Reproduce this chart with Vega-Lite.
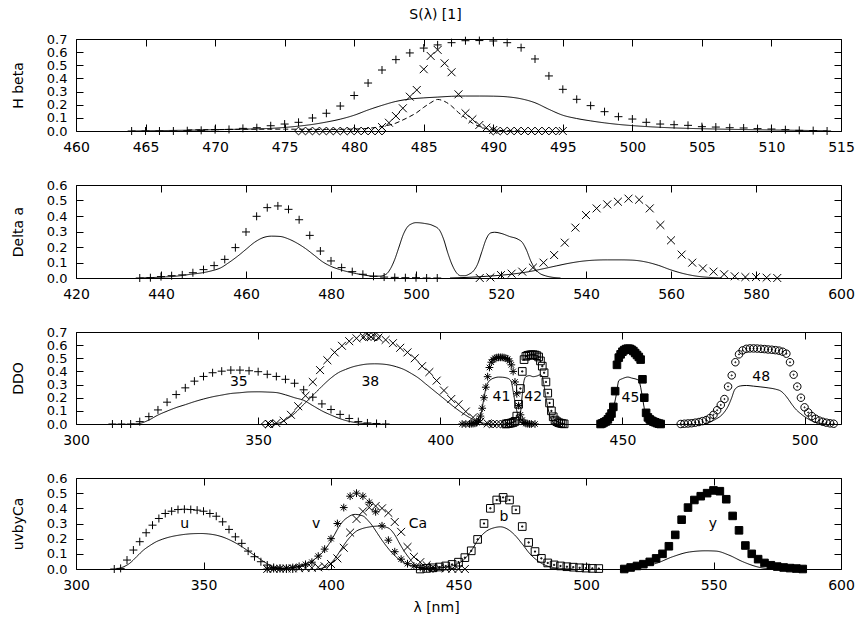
{
  "$schema": "https://vega.github.io/schema/vega-lite/v6.json",
  "padding": {"left": 11, "top": 8, "right": 0, "bottom": 0},
  "background": "white",
  "config": {
    "font": "DejaVu Sans",
    "view": {"stroke": null},
    "axis": {"grid": false, "domain": true, "domainColor": "black", "domainWidth": 1, "tickColor": "black", "tickWidth": 1, "tickSize": -7, "labelColor": "black", "titleColor": "black", "labelFont": "DejaVu Sans", "titleFont": "DejaVu Sans", "labelFontSize": 14, "titleFontSize": 14, "titleFontWeight": "normal", "labelOverlap": false, "labelFlush": false},
    "axisX": {"labelPadding": 16},
    "axisY": {"labelPadding": 16, "titlePadding": 21, "labelFontSize": 13},
    "title": {"font": "DejaVu Sans", "fontSize": 14, "fontWeight": "normal", "color": "black"}
  },
  "datasets": {
    "p1p": [
      {"x":464,"y":0,"m":"plus"},{"x":465,"y":0,"m":"plus"},{"x":466,"y":0,"m":"plus"},{"x":467,"y":0,"m":"plus"},{"x":468,"y":0.002,"m":"plus"},{"x":469,"y":0.005,"m":"plus"},{"x":470,"y":0.01,"m":"plus"},{"x":471,"y":0.012,"m":"plus"},{"x":472,"y":0.02,"m":"plus"},{"x":473,"y":0.025,"m":"plus"},{"x":474,"y":0.04,"m":"plus"},{"x":475,"y":0.053,"m":"plus"},{"x":476,"y":0.066,"m":"plus"},{"x":477,"y":0.099,"m":"plus"},{"x":478,"y":0.135,"m":"plus"},{"x":479,"y":0.19,"m":"plus"},{"x":480,"y":0.27,"m":"plus"},{"x":481,"y":0.365,"m":"plus"},{"x":482,"y":0.464,"m":"plus"},{"x":483,"y":0.543,"m":"plus"},{"x":484,"y":0.594,"m":"plus"},{"x":485,"y":0.631,"m":"plus"},{"x":486,"y":0.655,"m":"plus"},{"x":487,"y":0.672,"m":"plus"},{"x":488,"y":0.687,"m":"plus"},{"x":489,"y":0.688,"m":"plus"},{"x":490,"y":0.685,"m":"plus"},{"x":491,"y":0.672,"m":"plus"},{"x":492,"y":0.634,"m":"plus"},{"x":493,"y":0.548,"m":"plus"},{"x":494,"y":0.419,"m":"plus"},{"x":495,"y":0.317,"m":"plus"},{"x":496,"y":0.241,"m":"plus"},{"x":497,"y":0.193,"m":"plus"},{"x":498,"y":0.147,"m":"plus"},{"x":499,"y":0.109,"m":"plus"},{"x":500,"y":0.091,"m":"plus"},{"x":501,"y":0.066,"m":"plus"},{"x":502,"y":0.053,"m":"plus"},{"x":503,"y":0.048,"m":"plus"},{"x":504,"y":0.043,"m":"plus"},{"x":505,"y":0.033,"m":"plus"},{"x":506,"y":0.03,"m":"plus"},{"x":507,"y":0.025,"m":"plus"},{"x":508,"y":0.023,"m":"plus"},{"x":509,"y":0.018,"m":"plus"},{"x":510,"y":0.015,"m":"plus"},{"x":511,"y":0.01,"m":"plus"},{"x":512,"y":0.005,"m":"plus"},{"x":513,"y":0.003,"m":"plus"},{"x":514,"y":0,"m":"plus"},
      {"x":482,"y":0.03,"m":"x"},{"x":482.5,"y":0.063,"m":"x"},{"x":483,"y":0.114,"m":"x"},{"x":483.5,"y":0.173,"m":"x"},{"x":484,"y":0.261,"m":"x"},{"x":484.5,"y":0.312,"m":"x"},{"x":485,"y":0.47,"m":"x"},{"x":485.5,"y":0.571,"m":"x"},{"x":486,"y":0.617,"m":"x"},{"x":486.5,"y":0.515,"m":"x"},{"x":487,"y":0.447,"m":"x"},{"x":487.5,"y":0.279,"m":"x"},{"x":488,"y":0.135,"m":"x"},{"x":488.5,"y":0.089,"m":"x"},{"x":489,"y":0.046,"m":"x"},{"x":489.5,"y":0.025,"m":"x"},{"x":490,"y":0.008,"m":"x"},{"x":495,"y":0,"m":"x"},
      {"x":476,"y":0,"m":"diamond"},{"x":476.5,"y":0,"m":"diamond"},{"x":477,"y":0,"m":"diamond"},{"x":477.5,"y":0,"m":"diamond"},{"x":478,"y":0,"m":"diamond"},{"x":478.5,"y":0,"m":"diamond"},{"x":479,"y":0,"m":"diamond"},{"x":479.5,"y":0,"m":"diamond"},{"x":480,"y":0,"m":"diamond"},{"x":480.5,"y":0,"m":"diamond"},{"x":481,"y":0,"m":"diamond"},{"x":481.5,"y":0,"m":"diamond"},{"x":482,"y":0,"m":"diamond"},
      {"x":490,"y":0,"m":"diamond"},{"x":490.5,"y":0,"m":"diamond"},{"x":491,"y":0,"m":"diamond"},{"x":491.5,"y":0,"m":"diamond"},{"x":492,"y":0,"m":"diamond"},{"x":492.5,"y":0,"m":"diamond"},{"x":493,"y":0,"m":"diamond"},{"x":493.5,"y":0,"m":"diamond"},{"x":494,"y":0,"m":"diamond"},{"x":494.5,"y":0,"m":"diamond"}
    ],
    "p1l": [
      {"s":"a","d":"solid","x":464,"y":0},{"s":"a","d":"solid","x":466,"y":0.003},{"s":"a","d":"solid","x":468,"y":0.006},{"s":"a","d":"solid","x":470,"y":0.01},{"s":"a","d":"solid","x":472,"y":0.014},{"s":"a","d":"solid","x":474,"y":0.02},{"s":"a","d":"solid","x":475,"y":0.027},{"s":"a","d":"solid","x":476,"y":0.037},{"s":"a","d":"solid","x":477,"y":0.05},{"s":"a","d":"solid","x":478,"y":0.068},{"s":"a","d":"solid","x":479,"y":0.09},{"s":"a","d":"solid","x":480,"y":0.12},{"s":"a","d":"solid","x":481,"y":0.16},{"s":"a","d":"solid","x":482,"y":0.195},{"s":"a","d":"solid","x":483,"y":0.225},{"s":"a","d":"solid","x":484,"y":0.243},{"s":"a","d":"solid","x":485,"y":0.252},{"s":"a","d":"solid","x":486,"y":0.258},{"s":"a","d":"solid","x":487,"y":0.264},{"s":"a","d":"solid","x":488,"y":0.266},{"s":"a","d":"solid","x":489,"y":0.266},{"s":"a","d":"solid","x":490,"y":0.265},{"s":"a","d":"solid","x":491,"y":0.26},{"s":"a","d":"solid","x":492,"y":0.245},{"s":"a","d":"solid","x":493,"y":0.215},{"s":"a","d":"solid","x":494,"y":0.165},{"s":"a","d":"solid","x":495,"y":0.12},{"s":"a","d":"solid","x":496,"y":0.095},{"s":"a","d":"solid","x":497,"y":0.077},{"s":"a","d":"solid","x":498,"y":0.062},{"s":"a","d":"solid","x":499,"y":0.05},{"s":"a","d":"solid","x":500,"y":0.041},{"s":"a","d":"solid","x":502,"y":0.028},{"s":"a","d":"solid","x":504,"y":0.02},{"s":"a","d":"solid","x":506,"y":0.015},{"s":"a","d":"solid","x":508,"y":0.011},{"s":"a","d":"solid","x":510,"y":0.008},{"s":"a","d":"solid","x":512,"y":0.005},{"s":"a","d":"solid","x":514,"y":0.002},
      {"s":"b","d":"dashed","x":468,"y":0.008},{"s":"b","d":"dashed","x":472,"y":0.013},{"s":"b","d":"dashed","x":475,"y":0.014},{"s":"b","d":"dashed","x":478,"y":0.012},{"s":"b","d":"dashed","x":480,"y":0.015},{"s":"b","d":"dashed","x":481,"y":0.02},{"s":"b","d":"dashed","x":482,"y":0.035},{"s":"b","d":"dashed","x":483,"y":0.06},{"s":"b","d":"dashed","x":483.5,"y":0.084},{"s":"b","d":"dashed","x":484,"y":0.11},{"s":"b","d":"dashed","x":484.5,"y":0.14},{"s":"b","d":"dashed","x":485,"y":0.18},{"s":"b","d":"dashed","x":485.5,"y":0.215},{"s":"b","d":"dashed","x":486,"y":0.24},{"s":"b","d":"dashed","x":486.5,"y":0.225},{"s":"b","d":"dashed","x":487,"y":0.19},{"s":"b","d":"dashed","x":487.5,"y":0.14},{"s":"b","d":"dashed","x":488,"y":0.1},{"s":"b","d":"dashed","x":488.5,"y":0.06},{"s":"b","d":"dashed","x":489,"y":0.035},{"s":"b","d":"dashed","x":489.5,"y":0.018},{"s":"b","d":"dashed","x":490,"y":0.008},{"s":"b","d":"dashed","x":491,"y":0.002},{"s":"b","d":"dashed","x":492,"y":0}
    ],
    "p2p": [
      {"x":435,"y":0,"m":"plus"},{"x":437.5,"y":0.002,"m":"plus"},{"x":440,"y":0.009,"m":"plus"},{"x":442.5,"y":0.015,"m":"plus"},{"x":445,"y":0.02,"m":"plus"},{"x":447.5,"y":0.034,"m":"plus"},{"x":450,"y":0.054,"m":"plus"},{"x":452.5,"y":0.08,"m":"plus"},{"x":455,"y":0.12,"m":"plus"},{"x":457.5,"y":0.196,"m":"plus"},{"x":460,"y":0.297,"m":"plus"},{"x":462.5,"y":0.398,"m":"plus"},{"x":465,"y":0.454,"m":"plus"},{"x":467.5,"y":0.465,"m":"plus"},{"x":470,"y":0.443,"m":"plus"},{"x":472.5,"y":0.376,"m":"plus"},{"x":475,"y":0.275,"m":"plus"},{"x":477.5,"y":0.174,"m":"plus"},{"x":480,"y":0.11,"m":"plus"},{"x":482.5,"y":0.067,"m":"plus"},{"x":485,"y":0.041,"m":"plus"},{"x":487.5,"y":0.024,"m":"plus"},{"x":490,"y":0.011,"m":"plus"},{"x":492.5,"y":0.006,"m":"plus"},{"x":495,"y":0.004,"m":"plus"},{"x":497.5,"y":0.002,"m":"plus"},{"x":500,"y":0.002,"m":"plus"},{"x":502.5,"y":0,"m":"plus"},{"x":505,"y":0,"m":"plus"},
      {"x":515,"y":0,"m":"x"},{"x":517.5,"y":0.004,"m":"x"},{"x":520,"y":0.019,"m":"x"},{"x":522.5,"y":0.028,"m":"x"},{"x":525,"y":0.041,"m":"x"},{"x":527.5,"y":0.067,"m":"x"},{"x":530,"y":0.099,"m":"x"},{"x":532.5,"y":0.148,"m":"x"},{"x":535,"y":0.228,"m":"x"},{"x":537.5,"y":0.325,"m":"x"},{"x":540,"y":0.406,"m":"x"},{"x":542.5,"y":0.449,"m":"x"},{"x":545,"y":0.475,"m":"x"},{"x":547.5,"y":0.492,"m":"x"},{"x":550,"y":0.512,"m":"x"},{"x":552.5,"y":0.505,"m":"x"},{"x":555,"y":0.449,"m":"x"},{"x":557.5,"y":0.342,"m":"x"},{"x":560,"y":0.243,"m":"x"},{"x":562.5,"y":0.151,"m":"x"},{"x":565,"y":0.099,"m":"x"},{"x":567.5,"y":0.062,"m":"x"},{"x":570,"y":0.041,"m":"x"},{"x":572.5,"y":0.024,"m":"x"},{"x":575,"y":0.011,"m":"x"},{"x":577.5,"y":0.006,"m":"x"},{"x":580,"y":0.006,"m":"x"},{"x":582.5,"y":0.002,"m":"x"},{"x":585,"y":0,"m":"x"}
    ],
    "p2l": [
      {"s":"a","d":"solid","x":435,"y":0},{"s":"a","d":"solid","x":438,"y":0.003},{"s":"a","d":"solid","x":441,"y":0.007},{"s":"a","d":"solid","x":444,"y":0.013},{"s":"a","d":"solid","x":447,"y":0.024},{"s":"a","d":"solid","x":450,"y":0.035},{"s":"a","d":"solid","x":452,"y":0.047},{"s":"a","d":"solid","x":454,"y":0.065},{"s":"a","d":"solid","x":456,"y":0.1},{"s":"a","d":"solid","x":458,"y":0.14},{"s":"a","d":"solid","x":460,"y":0.185},{"s":"a","d":"solid","x":462,"y":0.23},{"s":"a","d":"solid","x":464,"y":0.26},{"s":"a","d":"solid","x":466,"y":0.27},{"s":"a","d":"solid","x":468,"y":0.268},{"s":"a","d":"solid","x":470,"y":0.252},{"s":"a","d":"solid","x":472,"y":0.225},{"s":"a","d":"solid","x":474,"y":0.19},{"s":"a","d":"solid","x":476,"y":0.148},{"s":"a","d":"solid","x":478,"y":0.105},{"s":"a","d":"solid","x":480,"y":0.075},{"s":"a","d":"solid","x":482,"y":0.055},{"s":"a","d":"solid","x":484,"y":0.04},{"s":"a","d":"solid","x":486,"y":0.028},{"s":"a","d":"solid","x":488,"y":0.018},{"s":"a","d":"solid","x":490,"y":0.012},{"s":"a","d":"solid","x":491.5,"y":0.012},{"s":"a","d":"solid","x":493,"y":0.025},{"s":"a","d":"solid","x":494,"y":0.06},{"s":"a","d":"solid","x":495,"y":0.12},{"s":"a","d":"solid","x":496,"y":0.2},{"s":"a","d":"solid","x":497,"y":0.28},{"s":"a","d":"solid","x":498,"y":0.33},{"s":"a","d":"solid","x":499,"y":0.35},{"s":"a","d":"solid","x":500,"y":0.357},{"s":"a","d":"solid","x":502,"y":0.352},{"s":"a","d":"solid","x":504,"y":0.338},{"s":"a","d":"solid","x":505.5,"y":0.31},{"s":"a","d":"solid","x":506.5,"y":0.25},{"s":"a","d":"solid","x":507.5,"y":0.16},{"s":"a","d":"solid","x":508.5,"y":0.085},{"s":"a","d":"solid","x":509.5,"y":0.035},{"s":"a","d":"solid","x":510.5,"y":0.015},{"s":"a","d":"solid","x":511.5,"y":0.015},{"s":"a","d":"solid","x":512.5,"y":0.025},{"s":"a","d":"solid","x":513.5,"y":0.045},{"s":"a","d":"solid","x":514.5,"y":0.09},{"s":"a","d":"solid","x":515.5,"y":0.17},{"s":"a","d":"solid","x":516.5,"y":0.25},{"s":"a","d":"solid","x":517.5,"y":0.29},{"s":"a","d":"solid","x":518.5,"y":0.295},{"s":"a","d":"solid","x":520,"y":0.288},{"s":"a","d":"solid","x":522,"y":0.268},{"s":"a","d":"solid","x":524,"y":0.25},{"s":"a","d":"solid","x":525,"y":0.23},{"s":"a","d":"solid","x":526,"y":0.18},{"s":"a","d":"solid","x":527,"y":0.11},{"s":"a","d":"solid","x":528,"y":0.06},{"s":"a","d":"solid","x":529,"y":0.032},{"s":"a","d":"solid","x":530.5,"y":0.014},{"s":"a","d":"solid","x":532,"y":0.005},{"s":"a","d":"solid","x":534,"y":0},
      {"s":"b","d":"solid","x":508,"y":0},{"s":"b","d":"solid","x":512,"y":0.004},{"s":"b","d":"solid","x":516,"y":0.01},{"s":"b","d":"solid","x":520,"y":0.018},{"s":"b","d":"solid","x":524,"y":0.03},{"s":"b","d":"solid","x":527,"y":0.043},{"s":"b","d":"solid","x":530,"y":0.06},{"s":"b","d":"solid","x":533,"y":0.078},{"s":"b","d":"solid","x":536,"y":0.095},{"s":"b","d":"solid","x":539,"y":0.108},{"s":"b","d":"solid","x":542,"y":0.115},{"s":"b","d":"solid","x":545,"y":0.117},{"s":"b","d":"solid","x":548,"y":0.117},{"s":"b","d":"solid","x":551,"y":0.115},{"s":"b","d":"solid","x":554,"y":0.104},{"s":"b","d":"solid","x":557,"y":0.082},{"s":"b","d":"solid","x":560,"y":0.052},{"s":"b","d":"solid","x":563,"y":0.028},{"s":"b","d":"solid","x":566,"y":0.012},{"s":"b","d":"solid","x":569,"y":0.004},{"s":"b","d":"solid","x":572,"y":0}
    ],
    "p3p": [
      {"x":310,"y":0,"m":"plus"},{"x":312.5,"y":0,"m":"plus"},{"x":315,"y":0,"m":"plus"},{"x":317.5,"y":0.018,"m":"plus"},{"x":320,"y":0.056,"m":"plus"},{"x":322.5,"y":0.107,"m":"plus"},{"x":325,"y":0.166,"m":"plus"},{"x":327.5,"y":0.224,"m":"plus"},{"x":330,"y":0.275,"m":"plus"},{"x":332.5,"y":0.326,"m":"plus"},{"x":335,"y":0.362,"m":"plus"},{"x":337.5,"y":0.39,"m":"plus"},{"x":340,"y":0.402,"m":"plus"},{"x":342.5,"y":0.41,"m":"plus"},{"x":345,"y":0.41,"m":"plus"},{"x":347.5,"y":0.405,"m":"plus"},{"x":350,"y":0.398,"m":"plus"},{"x":352.5,"y":0.378,"m":"plus"},{"x":355,"y":0.362,"m":"plus"},{"x":357.5,"y":0.34,"m":"plus"},{"x":360,"y":0.31,"m":"plus"},{"x":362.5,"y":0.26,"m":"plus"},{"x":365,"y":0.204,"m":"plus"},{"x":367.5,"y":0.153,"m":"plus"},{"x":370,"y":0.11,"m":"plus"},{"x":372.5,"y":0.073,"m":"plus"},{"x":375,"y":0.042,"m":"plus"},{"x":377.5,"y":0.018,"m":"plus"},{"x":380,"y":0.008,"m":"plus"},{"x":382.5,"y":0.004,"m":"plus"},{"x":385,"y":0,"m":"plus"},
      {"x":353,"y":0,"m":"x"},{"x":355,"y":0.007,"m":"x"},{"x":357,"y":0.025,"m":"x"},{"x":359,"y":0.07,"m":"x"},{"x":361,"y":0.135,"m":"x"},{"x":363,"y":0.215,"m":"x"},{"x":365,"y":0.32,"m":"x"},{"x":367,"y":0.41,"m":"x"},{"x":369,"y":0.485,"m":"x"},{"x":371,"y":0.545,"m":"x"},{"x":373,"y":0.595,"m":"x"},{"x":375,"y":0.63,"m":"x"},{"x":377,"y":0.652,"m":"x"},{"x":379,"y":0.662,"m":"x"},{"x":381,"y":0.662,"m":"x"},{"x":383,"y":0.657,"m":"x"},{"x":385,"y":0.64,"m":"x"},{"x":387,"y":0.615,"m":"x"},{"x":389,"y":0.58,"m":"x"},{"x":391,"y":0.545,"m":"x"},{"x":393,"y":0.5,"m":"x"},{"x":395,"y":0.44,"m":"x"},{"x":397,"y":0.395,"m":"x"},{"x":399,"y":0.33,"m":"x"},{"x":401,"y":0.255,"m":"x"},{"x":403,"y":0.19,"m":"x"},{"x":405,"y":0.15,"m":"x"},{"x":407,"y":0.095,"m":"x"},{"x":409,"y":0.05,"m":"x"},{"x":411,"y":0.018,"m":"x"},{"x":413,"y":0.004,"m":"x"},
      {"x":352,"y":0,"m":"diamond"},{"x":353.5,"y":0,"m":"diamond"},{"x":379.5,"y":0.664,"m":"diamond"},{"x":381,"y":0.665,"m":"diamond"},{"x":382.5,"y":0.662,"m":"diamond"},{"x":413.5,"y":0,"m":"diamond"},{"x":414.5,"y":0,"m":"diamond"},{"x":415.5,"y":0,"m":"diamond"},{"x":416.5,"y":0,"m":"diamond"},{"x":417.5,"y":0,"m":"diamond"},
      {"x":406,"y":0,"m":"asterisk"},{"x":407,"y":0,"m":"asterisk"},{"x":408,"y":0,"m":"asterisk"},{"x":408.5,"y":0.002,"m":"asterisk"},{"x":409,"y":0.003,"m":"asterisk"},{"x":409.5,"y":0.005,"m":"asterisk"},{"x":410,"y":0.01,"m":"asterisk"},{"x":410.5,"y":0.025,"m":"asterisk"},{"x":411,"y":0.06,"m":"asterisk"},{"x":411.5,"y":0.12,"m":"asterisk"},{"x":412,"y":0.2,"m":"asterisk"},{"x":412.5,"y":0.28,"m":"asterisk"},{"x":413,"y":0.36,"m":"asterisk"},{"x":413.5,"y":0.43,"m":"asterisk"},{"x":414,"y":0.47,"m":"asterisk"},{"x":414.5,"y":0.49,"m":"asterisk"},{"x":415,"y":0.5,"m":"asterisk"},{"x":415.5,"y":0.505,"m":"asterisk"},{"x":416,"y":0.507,"m":"asterisk"},{"x":416.5,"y":0.507,"m":"asterisk"},{"x":417,"y":0.507,"m":"asterisk"},{"x":417.5,"y":0.505,"m":"asterisk"},{"x":418,"y":0.5,"m":"asterisk"},{"x":418.5,"y":0.495,"m":"asterisk"},{"x":419,"y":0.48,"m":"asterisk"},{"x":419.5,"y":0.45,"m":"asterisk"},{"x":420,"y":0.4,"m":"asterisk"},{"x":420.5,"y":0.32,"m":"asterisk"},{"x":421,"y":0.23,"m":"asterisk"},{"x":421.5,"y":0.14,"m":"asterisk"},{"x":422,"y":0.07,"m":"asterisk"},{"x":422.5,"y":0.03,"m":"asterisk"},{"x":423,"y":0.012,"m":"asterisk"},{"x":423.5,"y":0.004,"m":"asterisk"},{"x":424,"y":0.002,"m":"asterisk"},{"x":424.5,"y":0,"m":"asterisk"},{"x":425,"y":0,"m":"asterisk"},{"x":426,"y":0,"m":"asterisk"},
      {"x":418,"y":0,"m":"sqdot"},{"x":418.5,"y":0.003,"m":"sqdot"},{"x":419,"y":0.005,"m":"sqdot"},{"x":419.5,"y":0.008,"m":"sqdot"},{"x":420,"y":0.012,"m":"sqdot"},{"x":420.5,"y":0.02,"m":"sqdot"},{"x":421,"y":0.06,"m":"sqdot"},{"x":421.5,"y":0.15,"m":"sqdot"},{"x":422,"y":0.27,"m":"sqdot"},{"x":422.5,"y":0.4,"m":"sqdot"},{"x":423,"y":0.49,"m":"sqdot"},{"x":423.5,"y":0.515,"m":"sqdot"},{"x":424,"y":0.522,"m":"sqdot"},{"x":424.5,"y":0.525,"m":"sqdot"},{"x":425,"y":0.527,"m":"sqdot"},{"x":425.5,"y":0.527,"m":"sqdot"},{"x":426,"y":0.525,"m":"sqdot"},{"x":426.5,"y":0.52,"m":"sqdot"},{"x":427,"y":0.51,"m":"sqdot"},{"x":427.5,"y":0.48,"m":"sqdot"},{"x":428,"y":0.44,"m":"sqdot"},{"x":428.5,"y":0.39,"m":"sqdot"},{"x":429,"y":0.32,"m":"sqdot"},{"x":429.5,"y":0.235,"m":"sqdot"},{"x":430,"y":0.16,"m":"sqdot"},{"x":430.5,"y":0.1,"m":"sqdot"},{"x":431,"y":0.055,"m":"sqdot"},{"x":431.5,"y":0.03,"m":"sqdot"},{"x":432,"y":0.018,"m":"sqdot"},{"x":432.5,"y":0.01,"m":"sqdot"},{"x":433,"y":0.006,"m":"sqdot"},{"x":433.5,"y":0.003,"m":"sqdot"},{"x":434,"y":0.001,"m":"sqdot"},
      {"x":444,"y":0,"m":"sqfill"},{"x":444.5,"y":0.005,"m":"sqfill"},{"x":445,"y":0.013,"m":"sqfill"},{"x":445.5,"y":0.02,"m":"sqfill"},{"x":446,"y":0.035,"m":"sqfill"},{"x":446.5,"y":0.055,"m":"sqfill"},{"x":447,"y":0.08,"m":"sqfill"},{"x":447.5,"y":0.13,"m":"sqfill"},{"x":448,"y":0.25,"m":"sqfill"},{"x":448.5,"y":0.45,"m":"sqfill"},{"x":449,"y":0.505,"m":"sqfill"},{"x":449.5,"y":0.53,"m":"sqfill"},{"x":450,"y":0.55,"m":"sqfill"},{"x":450.5,"y":0.562,"m":"sqfill"},{"x":451,"y":0.57,"m":"sqfill"},{"x":451.5,"y":0.573,"m":"sqfill"},{"x":452,"y":0.572,"m":"sqfill"},{"x":452.5,"y":0.565,"m":"sqfill"},{"x":453,"y":0.555,"m":"sqfill"},{"x":453.5,"y":0.54,"m":"sqfill"},{"x":454,"y":0.525,"m":"sqfill"},{"x":454.5,"y":0.51,"m":"sqfill"},{"x":455,"y":0.49,"m":"sqfill"},{"x":455.5,"y":0.34,"m":"sqfill"},{"x":456,"y":0.2,"m":"sqfill"},{"x":456.5,"y":0.085,"m":"sqfill"},{"x":457,"y":0.05,"m":"sqfill"},{"x":457.5,"y":0.035,"m":"sqfill"},{"x":458,"y":0.025,"m":"sqfill"},{"x":458.5,"y":0.018,"m":"sqfill"},{"x":459,"y":0.013,"m":"sqfill"},{"x":459.5,"y":0.007,"m":"sqfill"},{"x":460,"y":0.003,"m":"sqfill"},{"x":460.5,"y":0,"m":"sqfill"},
      {"x":466,"y":0,"m":"circdot"},{"x":467,"y":0.002,"m":"circdot"},{"x":468,"y":0.004,"m":"circdot"},{"x":469,"y":0.006,"m":"circdot"},{"x":470,"y":0.01,"m":"circdot"},{"x":471,"y":0.015,"m":"circdot"},{"x":472,"y":0.022,"m":"circdot"},{"x":473,"y":0.03,"m":"circdot"},{"x":474,"y":0.045,"m":"circdot"},{"x":475,"y":0.07,"m":"circdot"},{"x":476,"y":0.105,"m":"circdot"},{"x":477,"y":0.145,"m":"circdot"},{"x":478,"y":0.19,"m":"circdot"},{"x":479,"y":0.285,"m":"circdot"},{"x":480,"y":0.37,"m":"circdot"},{"x":481,"y":0.47,"m":"circdot"},{"x":482,"y":0.53,"m":"circdot"},{"x":483,"y":0.56,"m":"circdot"},{"x":484,"y":0.572,"m":"circdot"},{"x":485,"y":0.575,"m":"circdot"},{"x":486,"y":0.575,"m":"circdot"},{"x":487,"y":0.574,"m":"circdot"},{"x":488,"y":0.572,"m":"circdot"},{"x":489,"y":0.57,"m":"circdot"},{"x":490,"y":0.567,"m":"circdot"},{"x":491,"y":0.565,"m":"circdot"},{"x":492,"y":0.562,"m":"circdot"},{"x":493,"y":0.558,"m":"circdot"},{"x":494,"y":0.55,"m":"circdot"},{"x":495,"y":0.535,"m":"circdot"},{"x":496,"y":0.47,"m":"circdot"},{"x":497,"y":0.375,"m":"circdot"},{"x":498,"y":0.285,"m":"circdot"},{"x":499,"y":0.2,"m":"circdot"},{"x":500,"y":0.127,"m":"circdot"},{"x":501,"y":0.088,"m":"circdot"},{"x":502,"y":0.06,"m":"circdot"},{"x":503,"y":0.04,"m":"circdot"},{"x":504,"y":0.026,"m":"circdot"},{"x":505,"y":0.017,"m":"circdot"},{"x":506,"y":0.01,"m":"circdot"},{"x":507,"y":0.005,"m":"circdot"},{"x":508,"y":0.002,"m":"circdot"}
    ],
    "p3l": [
      {"s":"35","d":"solid","x":315,"y":0},{"s":"35","d":"solid","x":317.5,"y":0.005},{"s":"35","d":"solid","x":320,"y":0.03},{"s":"35","d":"solid","x":322.5,"y":0.068},{"s":"35","d":"solid","x":325,"y":0.098},{"s":"35","d":"solid","x":327.5,"y":0.125},{"s":"35","d":"solid","x":330,"y":0.147},{"s":"35","d":"solid","x":332.5,"y":0.17},{"s":"35","d":"solid","x":335,"y":0.19},{"s":"35","d":"solid","x":337.5,"y":0.207},{"s":"35","d":"solid","x":340,"y":0.22},{"s":"35","d":"solid","x":342.5,"y":0.232},{"s":"35","d":"solid","x":345,"y":0.238},{"s":"35","d":"solid","x":347.5,"y":0.244},{"s":"35","d":"solid","x":350,"y":0.245},{"s":"35","d":"solid","x":352.5,"y":0.243},{"s":"35","d":"solid","x":355,"y":0.239},{"s":"35","d":"solid","x":357.5,"y":0.222},{"s":"35","d":"solid","x":360,"y":0.2},{"s":"35","d":"solid","x":362.5,"y":0.18},{"s":"35","d":"solid","x":365,"y":0.14},{"s":"35","d":"solid","x":367.5,"y":0.1},{"s":"35","d":"solid","x":370,"y":0.068},{"s":"35","d":"solid","x":372.5,"y":0.04},{"s":"35","d":"solid","x":375,"y":0.02},{"s":"35","d":"solid","x":377.5,"y":0.008},{"s":"35","d":"solid","x":380,"y":0.002},{"s":"35","d":"solid","x":382.5,"y":0},
      {"s":"38","d":"solid","x":354,"y":0},{"s":"38","d":"solid","x":356,"y":0.01},{"s":"38","d":"solid","x":358,"y":0.04},{"s":"38","d":"solid","x":360,"y":0.08},{"s":"38","d":"solid","x":362,"y":0.135},{"s":"38","d":"solid","x":364,"y":0.19},{"s":"38","d":"solid","x":366,"y":0.245},{"s":"38","d":"solid","x":368,"y":0.3},{"s":"38","d":"solid","x":370,"y":0.35},{"s":"38","d":"solid","x":372,"y":0.39},{"s":"38","d":"solid","x":374,"y":0.415},{"s":"38","d":"solid","x":376,"y":0.435},{"s":"38","d":"solid","x":378,"y":0.448},{"s":"38","d":"solid","x":380,"y":0.456},{"s":"38","d":"solid","x":382,"y":0.458},{"s":"38","d":"solid","x":384,"y":0.456},{"s":"38","d":"solid","x":386,"y":0.449},{"s":"38","d":"solid","x":388,"y":0.435},{"s":"38","d":"solid","x":390,"y":0.415},{"s":"38","d":"solid","x":392,"y":0.385},{"s":"38","d":"solid","x":394,"y":0.35},{"s":"38","d":"solid","x":396,"y":0.305},{"s":"38","d":"solid","x":398,"y":0.26},{"s":"38","d":"solid","x":400,"y":0.215},{"s":"38","d":"solid","x":402,"y":0.17},{"s":"38","d":"solid","x":404,"y":0.125},{"s":"38","d":"solid","x":406,"y":0.085},{"s":"38","d":"solid","x":408,"y":0.05},{"s":"38","d":"solid","x":410,"y":0.022},{"s":"38","d":"solid","x":412,"y":0.006},{"s":"38","d":"solid","x":414,"y":0},
      {"s":"41","d":"solid","x":410,"y":0},{"s":"41","d":"solid","x":411,"y":0.05},{"s":"41","d":"solid","x":411.5,"y":0.12},{"s":"41","d":"solid","x":412,"y":0.2},{"s":"41","d":"solid","x":412.5,"y":0.27},{"s":"41","d":"solid","x":413,"y":0.31},{"s":"41","d":"solid","x":414,"y":0.34},{"s":"41","d":"solid","x":415,"y":0.352},{"s":"41","d":"solid","x":416,"y":0.357},{"s":"41","d":"solid","x":417,"y":0.356},{"s":"41","d":"solid","x":418,"y":0.352},{"s":"41","d":"solid","x":419,"y":0.34},{"s":"41","d":"solid","x":419.5,"y":0.32},{"s":"41","d":"solid","x":420,"y":0.25},{"s":"41","d":"solid","x":420.5,"y":0.17},{"s":"41","d":"solid","x":421,"y":0.1},{"s":"41","d":"solid","x":421.5,"y":0.045},{"s":"41","d":"solid","x":422,"y":0.015},{"s":"41","d":"solid","x":422.5,"y":0},
      {"s":"42","d":"solid","x":421.5,"y":0},{"s":"42","d":"solid","x":422,"y":0.08},{"s":"42","d":"solid","x":422.5,"y":0.22},{"s":"42","d":"solid","x":423,"y":0.33},{"s":"42","d":"solid","x":423.5,"y":0.36},{"s":"42","d":"solid","x":424.5,"y":0.368},{"s":"42","d":"solid","x":425.5,"y":0.36},{"s":"42","d":"solid","x":426.5,"y":0.365},{"s":"42","d":"solid","x":427.5,"y":0.375},{"s":"42","d":"solid","x":428,"y":0.36},{"s":"42","d":"solid","x":428.5,"y":0.29},{"s":"42","d":"solid","x":429,"y":0.2},{"s":"42","d":"solid","x":429.5,"y":0.13},{"s":"42","d":"solid","x":430,"y":0.07},{"s":"42","d":"solid","x":430.5,"y":0.035},{"s":"42","d":"solid","x":431,"y":0.012},{"s":"42","d":"solid","x":431.5,"y":0.003},{"s":"42","d":"solid","x":432,"y":0},
      {"s":"45","d":"solid","x":445.5,"y":0},{"s":"45","d":"solid","x":446.5,"y":0.04},{"s":"45","d":"solid","x":447.5,"y":0.12},{"s":"45","d":"solid","x":448.3,"y":0.22},{"s":"45","d":"solid","x":449,"y":0.33},{"s":"45","d":"solid","x":450,"y":0.345},{"s":"45","d":"solid","x":451.5,"y":0.357},{"s":"45","d":"solid","x":452.5,"y":0.35},{"s":"45","d":"solid","x":454.5,"y":0.332},{"s":"45","d":"solid","x":455,"y":0.28},{"s":"45","d":"solid","x":455.5,"y":0.2},{"s":"45","d":"solid","x":456,"y":0.12},{"s":"45","d":"solid","x":456.5,"y":0.06},{"s":"45","d":"solid","x":457.3,"y":0.015},{"s":"45","d":"solid","x":458.3,"y":0},
      {"s":"48","d":"solid","x":472.5,"y":0},{"s":"48","d":"solid","x":474,"y":0.015},{"s":"48","d":"solid","x":475.5,"y":0.035},{"s":"48","d":"solid","x":477.5,"y":0.075},{"s":"48","d":"solid","x":479,"y":0.135},{"s":"48","d":"solid","x":480,"y":0.2},{"s":"48","d":"solid","x":480.7,"y":0.255},{"s":"48","d":"solid","x":481.5,"y":0.28},{"s":"48","d":"solid","x":482.5,"y":0.29},{"s":"48","d":"solid","x":484,"y":0.293},{"s":"48","d":"solid","x":486,"y":0.288},{"s":"48","d":"solid","x":488,"y":0.282},{"s":"48","d":"solid","x":490,"y":0.275},{"s":"48","d":"solid","x":492,"y":0.265},{"s":"48","d":"solid","x":493.5,"y":0.25},{"s":"48","d":"solid","x":494.5,"y":0.225},{"s":"48","d":"solid","x":495.5,"y":0.19},{"s":"48","d":"solid","x":496.5,"y":0.15},{"s":"48","d":"solid","x":497.5,"y":0.115},{"s":"48","d":"solid","x":499,"y":0.077},{"s":"48","d":"solid","x":501,"y":0.038},{"s":"48","d":"solid","x":503,"y":0.013},{"s":"48","d":"solid","x":505,"y":0.003},{"s":"48","d":"solid","x":506,"y":0}
    ],
    "p3t": [
      {"x":344.7,"y":0.32,"t":"35"},{"x":380.8,"y":0.319,"t":"38"},{"x":416.8,"y":0.203,"t":"41"},{"x":425.5,"y":0.203,"t":"42"},{"x":452.2,"y":0.196,"t":"45"},{"x":488.1,"y":0.356,"t":"48"}
    ],
    "p4p": [
      {"x":315,"y":0,"m":"plus"},{"x":317.5,"y":0.004,"m":"plus"},{"x":320,"y":0.059,"m":"plus"},{"x":322.5,"y":0.125,"m":"plus"},{"x":325,"y":0.18,"m":"plus"},{"x":327.5,"y":0.239,"m":"plus"},{"x":330,"y":0.289,"m":"plus"},{"x":332.5,"y":0.333,"m":"plus"},{"x":335,"y":0.366,"m":"plus"},{"x":337.5,"y":0.381,"m":"plus"},{"x":340,"y":0.392,"m":"plus"},{"x":342.5,"y":0.394,"m":"plus"},{"x":345,"y":0.392,"m":"plus"},{"x":347.5,"y":0.388,"m":"plus"},{"x":350,"y":0.381,"m":"plus"},{"x":352.5,"y":0.366,"m":"plus"},{"x":355,"y":0.348,"m":"plus"},{"x":357.5,"y":0.311,"m":"plus"},{"x":360,"y":0.261,"m":"plus"},{"x":362.5,"y":0.212,"m":"plus"},{"x":365,"y":0.169,"m":"plus"},{"x":367.5,"y":0.118,"m":"plus"},{"x":370,"y":0.081,"m":"plus"},{"x":372.5,"y":0.048,"m":"plus"},{"x":375,"y":0.026,"m":"plus"},{"x":377.5,"y":0.01,"m":"plus"},{"x":380,"y":0.004,"m":"plus"},{"x":382.5,"y":0,"m":"plus"},{"x":385,"y":0,"m":"plus"},
      {"x":375,"y":0,"m":"asterisk"},{"x":377.5,"y":0.002,"m":"asterisk"},{"x":380,"y":0.004,"m":"asterisk"},{"x":382.5,"y":0.006,"m":"asterisk"},{"x":385,"y":0.01,"m":"asterisk"},{"x":387.5,"y":0.018,"m":"asterisk"},{"x":390,"y":0.031,"m":"asterisk"},{"x":392.5,"y":0.045,"m":"asterisk"},{"x":395,"y":0.085,"m":"asterisk"},{"x":397.5,"y":0.131,"m":"asterisk"},{"x":400,"y":0.2,"m":"asterisk"},{"x":402.5,"y":0.3,"m":"asterisk"},{"x":405,"y":0.405,"m":"asterisk"},{"x":407.5,"y":0.48,"m":"asterisk"},{"x":410,"y":0.5,"m":"asterisk"},{"x":412.5,"y":0.48,"m":"asterisk"},{"x":415,"y":0.44,"m":"asterisk"},{"x":417.5,"y":0.377,"m":"asterisk"},{"x":420,"y":0.285,"m":"asterisk"},{"x":422.5,"y":0.19,"m":"asterisk"},{"x":425,"y":0.114,"m":"asterisk"},{"x":427.5,"y":0.065,"m":"asterisk"},{"x":430,"y":0.035,"m":"asterisk"},{"x":432.5,"y":0.02,"m":"asterisk"},{"x":435,"y":0.01,"m":"asterisk"},{"x":437.5,"y":0.005,"m":"asterisk"},{"x":440,"y":0,"m":"asterisk"},
      {"x":375,"y":0,"m":"x"},{"x":377.5,"y":0.001,"m":"x"},{"x":380,"y":0.002,"m":"x"},{"x":382.5,"y":0.003,"m":"x"},{"x":385,"y":0.004,"m":"x"},{"x":387.5,"y":0.005,"m":"x"},{"x":390,"y":0.006,"m":"x"},{"x":392.5,"y":0.008,"m":"x"},{"x":395,"y":0.011,"m":"x"},{"x":397.5,"y":0.018,"m":"x"},{"x":400,"y":0.033,"m":"x"},{"x":402.5,"y":0.07,"m":"x"},{"x":405,"y":0.14,"m":"x"},{"x":407.5,"y":0.24,"m":"x"},{"x":410,"y":0.33,"m":"x"},{"x":412.5,"y":0.38,"m":"x"},{"x":415,"y":0.405,"m":"x"},{"x":417.5,"y":0.415,"m":"x"},{"x":420,"y":0.4,"m":"x"},{"x":422.5,"y":0.37,"m":"x"},{"x":425,"y":0.31,"m":"x"},{"x":427.5,"y":0.245,"m":"x"},{"x":430,"y":0.145,"m":"x"},{"x":432.5,"y":0.08,"m":"x"},{"x":435,"y":0.045,"m":"x"},{"x":437.5,"y":0.025,"m":"x"},{"x":440,"y":0.012,"m":"x"},{"x":442.5,"y":0.006,"m":"x"},{"x":445,"y":0.003,"m":"x"},{"x":447.5,"y":0.001,"m":"x"},{"x":450,"y":0,"m":"x"},{"x":452.5,"y":0,"m":"x"},
      {"x":435,"y":0,"m":"sqdot"},{"x":437.5,"y":0.004,"m":"sqdot"},{"x":440,"y":0.008,"m":"sqdot"},{"x":442.5,"y":0.013,"m":"sqdot"},{"x":445,"y":0.02,"m":"sqdot"},{"x":447.5,"y":0.03,"m":"sqdot"},{"x":450,"y":0.045,"m":"sqdot"},{"x":452.5,"y":0.075,"m":"sqdot"},{"x":455,"y":0.12,"m":"sqdot"},{"x":457.5,"y":0.195,"m":"sqdot"},{"x":460,"y":0.3,"m":"sqdot"},{"x":462.5,"y":0.4,"m":"sqdot"},{"x":465,"y":0.455,"m":"sqdot"},{"x":467.5,"y":0.472,"m":"sqdot"},{"x":470,"y":0.455,"m":"sqdot"},{"x":472.5,"y":0.39,"m":"sqdot"},{"x":475,"y":0.28,"m":"sqdot"},{"x":477.5,"y":0.175,"m":"sqdot"},{"x":480,"y":0.115,"m":"sqdot"},{"x":482.5,"y":0.07,"m":"sqdot"},{"x":485,"y":0.04,"m":"sqdot"},{"x":487.5,"y":0.027,"m":"sqdot"},{"x":490,"y":0.02,"m":"sqdot"},{"x":492.5,"y":0.015,"m":"sqdot"},{"x":495,"y":0.012,"m":"sqdot"},{"x":497.5,"y":0.008,"m":"sqdot"},{"x":500,"y":0.006,"m":"sqdot"},{"x":502.5,"y":0.004,"m":"sqdot"},{"x":505,"y":0.003,"m":"sqdot"},
      {"x":515,"y":0,"m":"sqfill"},{"x":517.5,"y":0.01,"m":"sqfill"},{"x":520,"y":0.02,"m":"sqfill"},{"x":522.5,"y":0.032,"m":"sqfill"},{"x":525,"y":0.047,"m":"sqfill"},{"x":527.5,"y":0.07,"m":"sqfill"},{"x":530,"y":0.1,"m":"sqfill"},{"x":532.5,"y":0.15,"m":"sqfill"},{"x":535,"y":0.225,"m":"sqfill"},{"x":537.5,"y":0.325,"m":"sqfill"},{"x":540,"y":0.405,"m":"sqfill"},{"x":542.5,"y":0.455,"m":"sqfill"},{"x":545,"y":0.48,"m":"sqfill"},{"x":547.5,"y":0.5,"m":"sqfill"},{"x":550,"y":0.518,"m":"sqfill"},{"x":552.5,"y":0.513,"m":"sqfill"},{"x":555,"y":0.46,"m":"sqfill"},{"x":557.5,"y":0.35,"m":"sqfill"},{"x":560,"y":0.255,"m":"sqfill"},{"x":562.5,"y":0.155,"m":"sqfill"},{"x":565,"y":0.1,"m":"sqfill"},{"x":567.5,"y":0.065,"m":"sqfill"},{"x":570,"y":0.04,"m":"sqfill"},{"x":572.5,"y":0.025,"m":"sqfill"},{"x":575,"y":0.016,"m":"sqfill"},{"x":577.5,"y":0.01,"m":"sqfill"},{"x":580,"y":0.006,"m":"sqfill"},{"x":582.5,"y":0.003,"m":"sqfill"},{"x":585,"y":0,"m":"sqfill"}
    ],
    "p4l": [
      {"s":"u","d":"solid","x":315.5,"y":0},{"s":"u","d":"solid","x":318,"y":0.01},{"s":"u","d":"solid","x":321,"y":0.037},{"s":"u","d":"solid","x":324,"y":0.085},{"s":"u","d":"solid","x":326.5,"y":0.125},{"s":"u","d":"solid","x":329,"y":0.155},{"s":"u","d":"solid","x":331.5,"y":0.18},{"s":"u","d":"solid","x":334,"y":0.197},{"s":"u","d":"solid","x":337,"y":0.212},{"s":"u","d":"solid","x":340,"y":0.222},{"s":"u","d":"solid","x":343,"y":0.229},{"s":"u","d":"solid","x":346,"y":0.233},{"s":"u","d":"solid","x":349,"y":0.234},{"s":"u","d":"solid","x":352,"y":0.231},{"s":"u","d":"solid","x":355,"y":0.223},{"s":"u","d":"solid","x":358,"y":0.208},{"s":"u","d":"solid","x":360.5,"y":0.19},{"s":"u","d":"solid","x":363,"y":0.168},{"s":"u","d":"solid","x":365.5,"y":0.142},{"s":"u","d":"solid","x":368,"y":0.113},{"s":"u","d":"solid","x":371,"y":0.079},{"s":"u","d":"solid","x":374,"y":0.045},{"s":"u","d":"solid","x":376.5,"y":0.022},{"s":"u","d":"solid","x":379,"y":0.008},{"s":"u","d":"solid","x":382.5,"y":0},
      {"s":"v","d":"solid","x":375,"y":0},{"s":"v","d":"solid","x":380,"y":0.003},{"s":"v","d":"solid","x":385,"y":0.01},{"s":"v","d":"solid","x":390,"y":0.03},{"s":"v","d":"solid","x":394,"y":0.07},{"s":"v","d":"solid","x":397,"y":0.115},{"s":"v","d":"solid","x":399,"y":0.16},{"s":"v","d":"solid","x":401,"y":0.215},{"s":"v","d":"solid","x":403,"y":0.275},{"s":"v","d":"solid","x":405,"y":0.32},{"s":"v","d":"solid","x":406.5,"y":0.34},{"s":"v","d":"solid","x":408,"y":0.355},{"s":"v","d":"solid","x":409.5,"y":0.36},{"s":"v","d":"solid","x":411,"y":0.357},{"s":"v","d":"solid","x":413,"y":0.345},{"s":"v","d":"solid","x":414.5,"y":0.32},{"s":"v","d":"solid","x":416,"y":0.29},{"s":"v","d":"solid","x":418,"y":0.24},{"s":"v","d":"solid","x":420,"y":0.19},{"s":"v","d":"solid","x":422,"y":0.145},{"s":"v","d":"solid","x":424,"y":0.105},{"s":"v","d":"solid","x":426,"y":0.073},{"s":"v","d":"solid","x":428,"y":0.048},{"s":"v","d":"solid","x":430,"y":0.03},{"s":"v","d":"solid","x":432,"y":0.02},{"s":"v","d":"solid","x":434,"y":0.01},{"s":"v","d":"solid","x":436,"y":0.004},{"s":"v","d":"solid","x":440,"y":0},
      {"s":"ca","d":"solid","x":395,"y":0},{"s":"ca","d":"solid","x":398,"y":0.015},{"s":"ca","d":"solid","x":400,"y":0.04},{"s":"ca","d":"solid","x":402,"y":0.08},{"s":"ca","d":"solid","x":404,"y":0.13},{"s":"ca","d":"solid","x":406,"y":0.18},{"s":"ca","d":"solid","x":408,"y":0.22},{"s":"ca","d":"solid","x":410,"y":0.25},{"s":"ca","d":"solid","x":412,"y":0.265},{"s":"ca","d":"solid","x":415,"y":0.277},{"s":"ca","d":"solid","x":419,"y":0.283},{"s":"ca","d":"solid","x":421,"y":0.278},{"s":"ca","d":"solid","x":423,"y":0.265},{"s":"ca","d":"solid","x":425,"y":0.225},{"s":"ca","d":"solid","x":427,"y":0.165},{"s":"ca","d":"solid","x":429,"y":0.11},{"s":"ca","d":"solid","x":431,"y":0.065},{"s":"ca","d":"solid","x":433,"y":0.025},{"s":"ca","d":"solid","x":435,"y":0.008},{"s":"ca","d":"solid","x":438,"y":0},
      {"s":"b","d":"solid","x":440,"y":0.005},{"s":"b","d":"solid","x":445,"y":0.012},{"s":"b","d":"solid","x":449,"y":0.03},{"s":"b","d":"solid","x":452,"y":0.06},{"s":"b","d":"solid","x":455,"y":0.12},{"s":"b","d":"solid","x":458,"y":0.2},{"s":"b","d":"solid","x":461,"y":0.25},{"s":"b","d":"solid","x":464,"y":0.272},{"s":"b","d":"solid","x":466.5,"y":0.278},{"s":"b","d":"solid","x":469,"y":0.265},{"s":"b","d":"solid","x":472,"y":0.225},{"s":"b","d":"solid","x":475,"y":0.165},{"s":"b","d":"solid","x":478,"y":0.1},{"s":"b","d":"solid","x":481,"y":0.055},{"s":"b","d":"solid","x":484,"y":0.025},{"s":"b","d":"solid","x":487,"y":0.01},{"s":"b","d":"solid","x":491,"y":0.003},{"s":"b","d":"solid","x":495,"y":0},
      {"s":"y","d":"solid","x":515,"y":0},{"s":"y","d":"solid","x":521,"y":0.015},{"s":"y","d":"solid","x":527.5,"y":0.037},{"s":"y","d":"solid","x":534,"y":0.081},{"s":"y","d":"solid","x":540.5,"y":0.112},{"s":"y","d":"solid","x":547,"y":0.12},{"s":"y","d":"solid","x":551,"y":0.118},{"s":"y","d":"solid","x":556,"y":0.092},{"s":"y","d":"solid","x":561.5,"y":0.048},{"s":"y","d":"solid","x":567,"y":0.015},{"s":"y","d":"solid","x":572,"y":0}
    ],
    "p4t": [
      {"x":342.6,"y":0.296,"t":"u"},{"x":394.2,"y":0.296,"t":"v"},{"x":434.1,"y":0.3,"t":"Ca"},{"x":467.8,"y":0.344,"t":"b"},{"x":549.8,"y":0.3,"t":"y"}
    ]
  },
  "vconcat": [
    {
      "width": 765, "height": 92,
      "title": {"text": "S(λ) [1]", "anchor": "middle", "frame": "group", "dx": -23, "offset": 11},
      "layer": [
        {
          "data": {"name": "p1l"},
          "mark": {"type": "line", "stroke": "black", "strokeWidth": 1, "interpolate": "monotone"},
          "encoding": {
            "x": {"field": "x", "type": "quantitative", "scale": {"domain": [460, 515], "nice": false, "zero": false}, "axis": {"orient": "top", "labels": false, "title": null, "values": [460,465,470,475,480,485,490,495,500,505,510,515]}},
            "y": {"field": "y", "type": "quantitative", "scale": {"domain": [0, 0.7], "nice": false, "zero": false}, "axis": {"orient": "right", "labels": false, "title": null, "values": [0,0.1,0.2,0.3,0.4,0.5,0.6,0.7]}},
            "detail": {"field": "s"},
            "strokeDash": {"field": "d", "type": "nominal", "scale": {"domain": ["solid", "dashed"], "range": [[1, 0], [5, 3]]}, "legend": null}
          }
        },
        {
          "data": {"name": "p1p"},
          "mark": {"type": "point", "stroke": "black", "strokeWidth": 1, "opacity": 1},
          "encoding": {
            "x": {"field": "x", "type": "quantitative", "scale": {"domain": [460, 515], "nice": false, "zero": false}, "axis": {"orient": "bottom", "title": null, "values": [460,465,470,475,480,485,490,495,500,505,510,515]}},
            "y": {"field": "y", "type": "quantitative", "scale": {"domain": [0, 0.7], "nice": false, "zero": false}, "axis": {"orient": "left", "title": "H beta", "format": ".1f", "values": [0,0.1,0.2,0.3,0.4,0.5,0.6,0.7]}},
            "shape": {"field": "m", "type": "nominal", "scale": {"domain": ["plus","x","diamond","asterisk","sqdot","sqfill","circdot"], "range": ["M-1,0H1M0,-1V1", "M-1,-1L1,1M-1,1L1,-1", "M0,-1L1,0L0,1L-1,0Z", "M-1,0H1M0,-1V1M-0.7,-0.7L0.7,0.7M-0.7,0.7L0.7,-0.7", "M-1,-1H1V1H-1ZM-0.15,-0.15H0.15V0.15H-0.15Z", "square", "M-1,0A1,1,0,1,1,1,0A1,1,0,1,1,-1,0ZM-0.15,0A0.15,0.15,0,1,1,0.15,0A0.15,0.15,0,1,1,-0.15,0Z"]}, "legend": null},
            "size": {"field": "m", "type": "ordinal", "scale": {"domain": ["plus","x","diamond","asterisk","sqdot","sqfill","circdot"], "range": [64, 56, 36, 42, 30, 28, 36]}, "legend": null},
            "fill": {"field": "m", "type": "nominal", "scale": {"domain": ["plus","x","diamond","asterisk","sqdot","sqfill","circdot"], "range": ["transparent","transparent","transparent","transparent","transparent","black","transparent"]}, "legend": null}
          }
        }
      ],
      "resolve": {"axis": {"x": "independent", "y": "independent"}}
    },
    {
      "width": 765, "height": 93,
      "layer": [
        {
          "data": {"name": "p2l"},
          "mark": {"type": "line", "stroke": "black", "strokeWidth": 1, "interpolate": "monotone"},
          "encoding": {
            "x": {"field": "x", "type": "quantitative", "scale": {"domain": [420, 600], "nice": false, "zero": false}, "axis": {"orient": "top", "labels": false, "title": null, "values": [420,440,460,480,500,520,540,560,580,600]}},
            "y": {"field": "y", "type": "quantitative", "scale": {"domain": [0, 0.6], "nice": false, "zero": false}, "axis": {"orient": "right", "labels": false, "title": null, "values": [0,0.1,0.2,0.3,0.4,0.5,0.6]}},
            "detail": {"field": "s"},
            "strokeDash": {"field": "d", "type": "nominal", "scale": {"domain": ["solid", "dashed"], "range": [[1, 0], [5, 3]]}, "legend": null}
          }
        },
        {
          "data": {"name": "p2p"},
          "mark": {"type": "point", "stroke": "black", "strokeWidth": 1, "opacity": 1},
          "encoding": {
            "x": {"field": "x", "type": "quantitative", "scale": {"domain": [420, 600], "nice": false, "zero": false}, "axis": {"orient": "bottom", "title": null, "values": [420,440,460,480,500,520,540,560,580,600]}},
            "y": {"field": "y", "type": "quantitative", "scale": {"domain": [0, 0.6], "nice": false, "zero": false}, "axis": {"orient": "left", "title": "Delta a", "format": ".1f", "values": [0,0.1,0.2,0.3,0.4,0.5,0.6]}},
            "shape": {"field": "m", "type": "nominal", "scale": {"domain": ["plus","x","diamond","asterisk","sqdot","sqfill","circdot"], "range": ["M-1,0H1M0,-1V1", "M-1,-1L1,1M-1,1L1,-1", "M0,-1L1,0L0,1L-1,0Z", "M-1,0H1M0,-1V1M-0.7,-0.7L0.7,0.7M-0.7,0.7L0.7,-0.7", "M-1,-1H1V1H-1ZM-0.15,-0.15H0.15V0.15H-0.15Z", "square", "M-1,0A1,1,0,1,1,1,0A1,1,0,1,1,-1,0ZM-0.15,0A0.15,0.15,0,1,1,0.15,0A0.15,0.15,0,1,1,-0.15,0Z"]}, "legend": null},
            "size": {"field": "m", "type": "ordinal", "scale": {"domain": ["plus","x","diamond","asterisk","sqdot","sqfill","circdot"], "range": [64, 56, 36, 42, 30, 28, 36]}, "legend": null},
            "fill": {"field": "m", "type": "nominal", "scale": {"domain": ["plus","x","diamond","asterisk","sqdot","sqfill","circdot"], "range": ["transparent","transparent","transparent","transparent","transparent","black","transparent"]}, "legend": null}
          }
        }
      ],
      "resolve": {"axis": {"x": "independent", "y": "independent"}}
    },
    {
      "width": 765, "height": 92,
      "layer": [
        {
          "data": {"name": "p3l"},
          "mark": {"type": "line", "stroke": "black", "strokeWidth": 1, "interpolate": "monotone"},
          "encoding": {
            "x": {"field": "x", "type": "quantitative", "scale": {"domain": [300, 510], "nice": false, "zero": false}, "axis": {"orient": "top", "labels": false, "title": null, "values": [300,350,400,450,500]}},
            "y": {"field": "y", "type": "quantitative", "scale": {"domain": [0, 0.7], "nice": false, "zero": false}, "axis": {"orient": "right", "labels": false, "title": null, "values": [0,0.1,0.2,0.3,0.4,0.5,0.6,0.7]}},
            "detail": {"field": "s"},
            "strokeDash": {"field": "d", "type": "nominal", "scale": {"domain": ["solid", "dashed"], "range": [[1, 0], [5, 3]]}, "legend": null}
          }
        },
        {
          "data": {"name": "p3p"},
          "mark": {"type": "point", "stroke": "black", "strokeWidth": 1, "opacity": 1},
          "encoding": {
            "x": {"field": "x", "type": "quantitative", "scale": {"domain": [300, 510], "nice": false, "zero": false}, "axis": {"orient": "bottom", "title": null, "values": [300,350,400,450,500]}},
            "y": {"field": "y", "type": "quantitative", "scale": {"domain": [0, 0.7], "nice": false, "zero": false}, "axis": {"orient": "left", "title": "DDO", "format": ".1f", "values": [0,0.1,0.2,0.3,0.4,0.5,0.6,0.7]}},
            "shape": {"field": "m", "type": "nominal", "scale": {"domain": ["plus","x","diamond","asterisk","sqdot","sqfill","circdot"], "range": ["M-1,0H1M0,-1V1", "M-1,-1L1,1M-1,1L1,-1", "M0,-1L1,0L0,1L-1,0Z", "M-1,0H1M0,-1V1M-0.7,-0.7L0.7,0.7M-0.7,0.7L0.7,-0.7", "M-1,-1H1V1H-1ZM-0.15,-0.15H0.15V0.15H-0.15Z", "square", "M-1,0A1,1,0,1,1,1,0A1,1,0,1,1,-1,0ZM-0.15,0A0.15,0.15,0,1,1,0.15,0A0.15,0.15,0,1,1,-0.15,0Z"]}, "legend": null},
            "size": {"field": "m", "type": "ordinal", "scale": {"domain": ["plus","x","diamond","asterisk","sqdot","sqfill","circdot"], "range": [64, 56, 36, 42, 30, 28, 36]}, "legend": null},
            "fill": {"field": "m", "type": "nominal", "scale": {"domain": ["plus","x","diamond","asterisk","sqdot","sqfill","circdot"], "range": ["transparent","transparent","transparent","transparent","transparent","black","transparent"]}, "legend": null}
          }
        },
        {
          "data": {"name": "p3t"},
          "mark": {"type": "text", "font": "DejaVu Sans", "fontSize": 14, "align": "center", "baseline": "middle", "color": "black"},
          "encoding": {
            "x": {"field": "x", "type": "quantitative", "axis": null},
            "y": {"field": "y", "type": "quantitative", "axis": null},
            "text": {"field": "t"}
          }
        }
      ],
      "resolve": {"axis": {"x": "independent", "y": "independent"}}
    },
    {
      "width": 765, "height": 91,
      "layer": [
        {
          "data": {"name": "p4l"},
          "mark": {"type": "line", "stroke": "black", "strokeWidth": 1, "interpolate": "monotone"},
          "encoding": {
            "x": {"field": "x", "type": "quantitative", "scale": {"domain": [300, 600], "nice": false, "zero": false}, "axis": {"orient": "top", "labels": false, "title": null, "values": [300,350,400,450,500,550,600]}},
            "y": {"field": "y", "type": "quantitative", "scale": {"domain": [0, 0.6], "nice": false, "zero": false}, "axis": {"orient": "right", "labels": false, "title": null, "values": [0,0.1,0.2,0.3,0.4,0.5,0.6]}},
            "detail": {"field": "s"},
            "strokeDash": {"field": "d", "type": "nominal", "scale": {"domain": ["solid", "dashed"], "range": [[1, 0], [5, 3]]}, "legend": null}
          }
        },
        {
          "data": {"name": "p4p"},
          "mark": {"type": "point", "stroke": "black", "strokeWidth": 1, "opacity": 1},
          "encoding": {
            "x": {"field": "x", "type": "quantitative", "scale": {"domain": [300, 600], "nice": false, "zero": false}, "axis": {"orient": "bottom", "title": "λ [nm]", "titleX": 360, "titlePadding": 8, "values": [300,350,400,450,500,550,600]}},
            "y": {"field": "y", "type": "quantitative", "scale": {"domain": [0, 0.6], "nice": false, "zero": false}, "axis": {"orient": "left", "title": "uvbyCa", "format": ".1f", "values": [0,0.1,0.2,0.3,0.4,0.5,0.6]}},
            "shape": {"field": "m", "type": "nominal", "scale": {"domain": ["plus","x","diamond","asterisk","sqdot","sqfill","circdot"], "range": ["M-1,0H1M0,-1V1", "M-1,-1L1,1M-1,1L1,-1", "M0,-1L1,0L0,1L-1,0Z", "M-1,0H1M0,-1V1M-0.7,-0.7L0.7,0.7M-0.7,0.7L0.7,-0.7", "M-1,-1H1V1H-1ZM-0.15,-0.15H0.15V0.15H-0.15Z", "square", "M-1,0A1,1,0,1,1,1,0A1,1,0,1,1,-1,0ZM-0.15,0A0.15,0.15,0,1,1,0.15,0A0.15,0.15,0,1,1,-0.15,0Z"]}, "legend": null},
            "size": {"field": "m", "type": "ordinal", "scale": {"domain": ["plus","x","diamond","asterisk","sqdot","sqfill","circdot"], "range": [64, 56, 36, 42, 30, 28, 36]}, "legend": null},
            "fill": {"field": "m", "type": "nominal", "scale": {"domain": ["plus","x","diamond","asterisk","sqdot","sqfill","circdot"], "range": ["transparent","transparent","transparent","transparent","transparent","black","transparent"]}, "legend": null}
          }
        },
        {
          "data": {"name": "p4t"},
          "mark": {"type": "text", "font": "DejaVu Sans", "fontSize": 14, "align": "center", "baseline": "middle", "color": "black"},
          "encoding": {
            "x": {"field": "x", "type": "quantitative", "axis": null},
            "y": {"field": "y", "type": "quantitative", "axis": null},
            "text": {"field": "t"}
          }
        }
      ],
      "resolve": {"axis": {"x": "independent", "y": "independent"}}
    }
  ],
  "spacing": 54,
  "bounds": "flush"
}
